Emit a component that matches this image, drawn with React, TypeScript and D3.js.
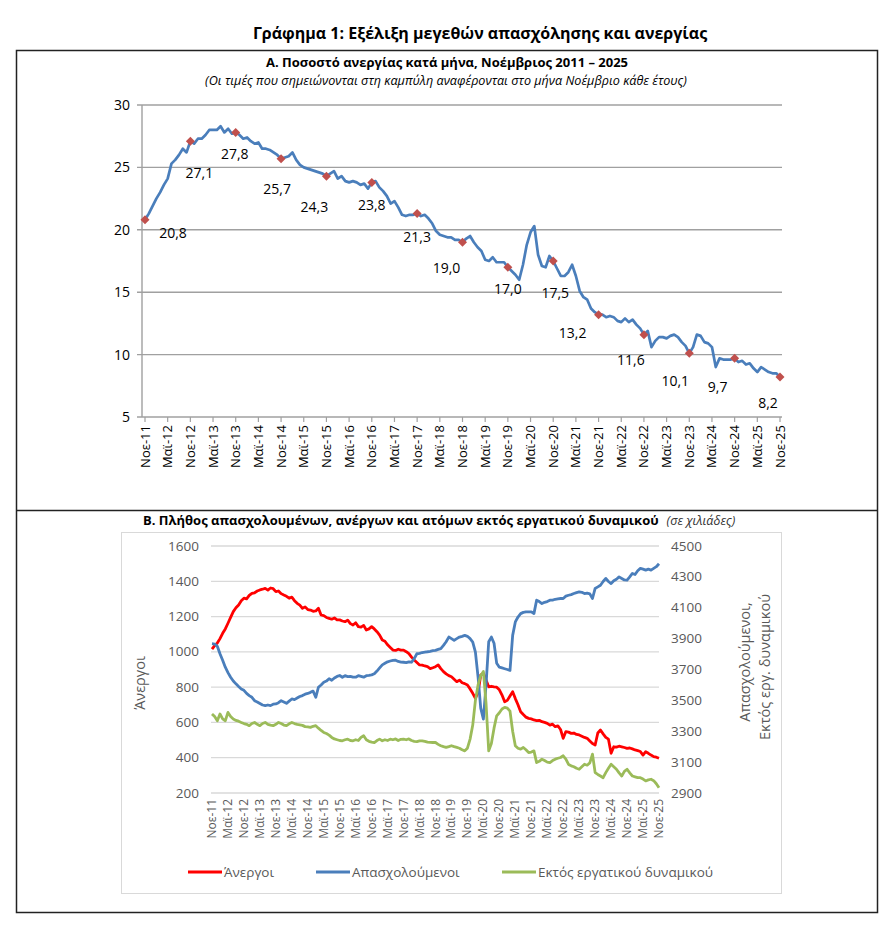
import React from "react";
import * as d3 from "d3";

// ---------- DATA ----------
// Month index 0 = Nov 2011 ... 168 = Nov 2025
const startYear = 2011;
const tickMonths = ["Νοε", "Μαϊ"];

// Panel A: unemployment rate (%) monthly
const unemploymentRate: number[] = [
  20.8, 21.3, 21.9, 22.5, 23.0, 23.6, 24.1, 25.3, 25.6, 26.0, 26.5, 26.2,
  27.1, 26.9, 27.3, 27.3, 27.6, 28.0, 28.0, 28.0, 28.3, 27.8, 28.1, 27.7,
  27.8, 27.6, 27.3, 27.4, 27.1, 26.9, 27.0, 26.5, 26.5, 26.4, 26.2, 26.0,
  25.7, 25.8, 25.9, 26.2, 25.6, 25.2, 25.0, 24.9, 24.8, 24.7, 24.6, 24.5,
  24.3, 24.5, 24.7, 24.1, 24.3, 23.9, 23.8, 23.9, 23.8, 23.6, 23.7, 23.3,
  23.8, 23.9, 23.4, 23.1, 22.7, 22.1, 22.3, 21.8, 21.2, 21.1, 21.2, 21.2,
  21.3, 21.1, 21.2, 20.9, 20.5, 19.9, 19.6, 19.5, 19.4, 19.4, 19.2, 19.2,
  19.0, 19.3, 19.5, 19.0, 18.6, 18.3, 17.6, 17.5, 17.8, 17.4, 17.4, 17.4,
  17.0, 16.7, 16.4, 16.0, 17.2, 18.8, 19.8, 20.3, 18.0, 17.1, 17.0, 17.9,
  17.5, 16.9, 16.3, 16.3, 16.6, 17.2, 16.3, 15.1, 14.6, 14.4, 13.7, 13.4,
  13.2, 13.2, 13.0, 13.1, 13.0, 12.7, 12.6, 12.9, 12.6, 12.8, 12.4, 12.1,
  11.6, 11.9, 10.6, 11.1, 11.4, 11.4, 11.3, 11.5, 11.6, 11.4, 11.0, 10.7,
  10.1, 10.6, 11.6, 11.5, 11.0, 10.9, 10.6, 9.0, 9.7, 9.6, 9.6, 9.6,
  9.7, 9.4, 9.5, 9.2, 9.3, 8.9, 8.6, 9.0, 8.8, 8.6, 8.5, 8.5,
  8.2,
];
const rateTicks = [5, 10, 15, 20, 25, 30];

// Panel B (thousands)
const unemployed: number[] = [
  1015, 1035, 1050, 1075, 1105, 1130, 1162, 1195, 1228, 1250, 1266, 1290,
  1304, 1300, 1320, 1332, 1335, 1345, 1351, 1355, 1360, 1350, 1362, 1358,
  1341, 1345, 1330, 1322, 1315, 1304, 1310, 1290, 1275, 1265, 1247, 1255,
  1240, 1237, 1230, 1232, 1247, 1209, 1205, 1195, 1190, 1185, 1192, 1181,
  1181, 1175, 1171, 1180, 1160, 1152, 1165, 1143, 1140, 1150, 1124, 1130,
  1143, 1130, 1114, 1095, 1067, 1060, 1040, 1025, 1010, 1008, 1015, 1010,
  1010, 1001, 990, 970, 954, 940, 926, 925, 920, 916, 905, 910,
  916, 926, 905, 888, 875, 865, 859, 845, 831, 840, 825, 820,
  812, 790, 765, 737, 770, 869, 878, 840, 802, 805, 802, 800,
  785, 755, 717, 725, 750, 774, 735, 700, 661, 645, 630, 623,
  620, 614, 610, 612, 604, 600, 595, 585, 590, 576, 580, 560,
  510, 548, 545, 538, 540, 532, 529, 522, 515, 510, 495, 480,
  472, 540, 557, 535, 515, 505, 425, 462, 460, 465, 462, 458,
  453, 455, 450, 444, 440, 435, 415, 434, 425, 415, 406, 403,
  397,
];
const employed: number[] = [
  3867, 3865, 3850, 3802, 3760, 3715, 3680, 3650, 3625, 3607, 3590, 3574,
  3565, 3545, 3531, 3520, 3498, 3490, 3480, 3470, 3466, 3470, 3466, 3475,
  3477, 3485, 3498, 3490, 3481, 3495, 3509, 3505, 3515, 3525, 3531, 3540,
  3545, 3552, 3560, 3520, 3585, 3600, 3617, 3625, 3640, 3630, 3645, 3655,
  3661, 3650, 3660, 3654, 3655, 3650, 3650, 3660, 3655, 3650, 3660, 3662,
  3665, 3672, 3690, 3710, 3730, 3740, 3750, 3755, 3759, 3760, 3752, 3748,
  3747, 3745, 3750, 3747, 3770, 3802, 3805, 3810, 3813, 3815, 3818, 3822,
  3824, 3830, 3835, 3856, 3880, 3910, 3900, 3889, 3900, 3910, 3915, 3921,
  3915, 3900, 3878, 3813, 3650, 3450, 3379, 3600, 3880, 3910, 3870, 3740,
  3715, 3710, 3705, 3700, 3694, 3921, 4008, 4040, 4062, 4070, 4073, 4073,
  4073, 4062, 4149, 4140, 4127, 4135, 4140, 4149, 4150, 4155, 4158, 4160,
  4160, 4175, 4181, 4185, 4192, 4198, 4203, 4200, 4192, 4195, 4190, 4160,
  4225, 4235, 4246, 4270, 4290, 4270, 4257, 4275, 4285, 4300, 4290, 4280,
  4279, 4300, 4322, 4315, 4340, 4355, 4350, 4344, 4350, 4344, 4355, 4366,
  4385,
];
const outsideLabourForce: number[] = [
  3412, 3395, 3368, 3412, 3380, 3368, 3422, 3395, 3379, 3370, 3365, 3357,
  3350, 3345, 3336, 3350, 3357, 3345, 3336, 3350, 3357, 3345, 3340, 3336,
  3345, 3357, 3350, 3340, 3336, 3348, 3357, 3350, 3345, 3342, 3338, 3330,
  3328, 3325, 3332, 3336, 3320, 3305, 3292, 3285, 3275, 3260, 3250, 3245,
  3240, 3238, 3245, 3249, 3240, 3238, 3245, 3240, 3260, 3271, 3245, 3235,
  3230, 3227, 3240, 3249, 3238, 3245, 3240, 3249, 3245, 3250, 3240, 3248,
  3249, 3245, 3250, 3240, 3235, 3233, 3238, 3238, 3235, 3230, 3228, 3227,
  3227, 3215, 3206, 3200, 3195, 3200, 3206, 3200, 3195, 3190, 3180, 3173,
  3190, 3249, 3340, 3500, 3600, 3660, 3687, 3480, 3173, 3220, 3320, 3400,
  3420, 3444, 3455, 3450, 3430, 3300, 3206, 3190, 3184, 3195, 3180, 3162,
  3165, 3173, 3097, 3105, 3119, 3110, 3100, 3097, 3110, 3119, 3125, 3130,
  3141, 3120, 3085, 3076, 3070, 3060, 3054, 3070, 3086, 3080, 3095, 3152,
  3032, 3020, 3010, 2999, 3032, 3060, 3086, 3070, 3054, 3030, 3010, 3040,
  3054, 3030, 3010, 3005, 3000, 2999, 2990, 2978, 2985, 2989, 2980, 2960,
  2934,
];
const leftTicks = [200, 400, 600, 800, 1000, 1200, 1400, 1600];
const rightTicks = [2900, 3100, 3300, 3500, 3700, 3900, 4100, 4300, 4500];

// ---------- LAYOUT ----------
const FONT = "'Open Sans', 'Noto Sans', sans-serif";
const tickIdx = d3.range(0, 169, 6);
const tickLabel = (m: number) => {
  const yr = startYear + Math.floor((m + 10) / 12);
  return `${tickMonths[(m / 6) % 2]}-${String(yr).slice(2)}`;
};
const novIdx = d3.range(0, 169, 12);
// label nudges (dx, dy) relative to marker, per November marker
const labelNudge: [number, number][] = [
  [28, 18], [9, 37], [-1, 27], [-4, 35], [-12, 36], [0, 28], [0, 28], [-16, 31],
  [0, 27], [2, 37], [-26, 23], [-13, 30], [-14, 33], [-17, 34], [-12, 31],
];

const COL_A = "#4a7ebb";
const COL_RED = "#ff0000";
const COL_BLUE = "#4a7ebb";
const COL_GREEN = "#9bbb59";
const GRAY_TXT = "#595959";

export default function App() {
  // Panel A scales
  const xA = d3.scaleLinear().domain([0, 168]).range([145, 780]);
  const yA = d3.scaleLinear().domain([5, 30]).range([417, 105]);
  const lineA = d3
    .line<number>()
    .x((_, i) => xA(i))
    .y((d) => yA(d));

  // Panel B scales
  const xB = d3.scaleLinear().domain([0, 168]).range([212, 659]);
  const yL = d3.scaleLinear().domain([200, 1600]).range([793, 546]);
  const yR = d3.scaleLinear().domain([2900, 4500]).range([793, 546]);
  const lineL = d3
    .line<number>()
    .x((_, i) => xB(i))
    .y((d) => yL(d));
  const lineR = d3
    .line<number>()
    .x((_, i) => xB(i))
    .y((d) => yR(d));

  const fmt = (v: number) => v.toFixed(1).replace(".", ",");

  return (
    <svg
      width={894}
      height={934}
      style={{ position: "absolute", left: 0, top: 0, background: "#fff" }}
      fontFamily={FONT}
    >
      <rect x={0} y={0} width={894} height={934} fill="#fff" />
      {/* Main title */}
      <text x={480} y={39} textAnchor="middle" fontSize={16} fontWeight="bold" fill="#000">
        Γράφημα 1: Εξέλιξη μεγεθών απασχόλησης και ανεργίας
      </text>
      {/* Frames */}
      <rect x={16.5} y={50.5} width={861} height={862} fill="none" stroke="#222" strokeWidth={1.5} />
      <line x1={16.5} x2={877.5} y1={510.5} y2={510.5} stroke="#222" strokeWidth={1.5} />

      {/* ---------- Panel A ---------- */}
      <text x={447} y={67} textAnchor="middle" fontSize={13} fontWeight="bold" fill="#000">
        Α. Ποσοστό ανεργίας κατά μήνα, Νοέμβριος 2011 – 2025
      </text>
      <text x={446} y={85} textAnchor="middle" fontSize={12.6} fontStyle="italic" fill="#000">
        (Οι τιμές που σημειώνονται στη καμπύλη αναφέρονται στο μήνα Νοέμβριο κάθε έτους)
      </text>
      {rateTicks.map((t) => (
        <g key={t}>
          <line x1={137} x2={782} y1={yA(t)} y2={yA(t)} stroke="#a0a0a0" strokeWidth={1.4} />
          <text x={130} y={yA(t) + 5} textAnchor="end" fontSize={14} fill="#000">
            {t}
          </text>
        </g>
      ))}
      <line x1={142} x2={142} y1={yA(30)} y2={yA(5)} stroke="#a0a0a0" strokeWidth={1.4} />
      {tickIdx.map((m) => (
        <g key={m}>
          <line x1={xA(m)} x2={xA(m)} y1={417} y2={422} stroke="#a0a0a0" strokeWidth={1.2} />
          <text
            transform={`translate(${xA(m) + 4.5},${425}) rotate(-90)`}
            textAnchor="end"
            fontSize={13}
            fill="#000"
          >
            {tickLabel(m)}
          </text>
        </g>
      ))}
      <path d={lineA(unemploymentRate) || ""} fill="none" stroke={COL_A} strokeWidth={2.7} strokeLinejoin="round" />
      {novIdx.map((m, k) => {
        const cx = xA(m);
        const cy = yA(unemploymentRate[m]);
        return (
          <g key={m}>
            <path d={`M${cx},${cy - 4.5}L${cx + 4.5},${cy}L${cx},${cy + 4.5}L${cx - 4.5},${cy}Z`} fill="#c0504d" />
            <text
              x={cx + labelNudge[k][0]}
              y={cy + labelNudge[k][1]}
              textAnchor="middle"
              fontSize={14}
              fill="#000"
            >
              {fmt(unemploymentRate[m])}
            </text>
          </g>
        );
      })}

      {/* ---------- Panel B ---------- */}
      <text x={143} y={525} fontSize={13} fontWeight="bold" fill="#000">
        Β. Πλήθος απασχολουμένων, ανέργων και ατόμων εκτός εργατικού δυναμικού
        <tspan dx={8} fontSize={12.5} fontWeight="normal" fontStyle="italic" fill="#333">
          (σε χιλιάδες)
        </tspan>
      </text>
      <rect x={121.5} y={532.5} width={660} height={361} fill="none" stroke="#d9d9d9" strokeWidth={1} />
      {leftTicks.map((t) => (
        <g key={t}>
          <line x1={211} x2={659} y1={yL(t)} y2={yL(t)} stroke="#d9d9d9" strokeWidth={1.3} />
          <text x={199} y={yL(t) + 4.5} textAnchor="end" fontSize={13.5} fill={GRAY_TXT}>
            {t}
          </text>
        </g>
      ))}
      {rightTicks.map((t) => (
        <text key={t} x={671} y={yR(t) + 4.5} fontSize={13.5} fill={GRAY_TXT}>
          {t}
        </text>
      ))}
      {tickIdx.map((m) => (
        <text
          key={m}
          transform={`translate(${xB(m) + 4},${799}) rotate(-90)`}
          textAnchor="end"
          fontSize={12}
          fill={GRAY_TXT}
        >
          {tickLabel(m)}
        </text>
      ))}
      <text transform="translate(145,683) rotate(-90)" textAnchor="middle" fontSize={14.5} fill={GRAY_TXT}>
        Άνεργοι
      </text>
      <text transform="translate(750,662) rotate(-90)" textAnchor="middle" fontSize={14.5} fill={GRAY_TXT}>
        Απασχολούμενοι,
      </text>
      <text transform="translate(770,667) rotate(-90)" textAnchor="middle" fontSize={14.5} fill={GRAY_TXT}>
        Εκτός εργ. δυναμικού
      </text>
      <path d={lineL(unemployed) || ""} fill="none" stroke={COL_RED} strokeWidth={2.8} strokeLinejoin="round" />
      <path d={lineR(employed) || ""} fill="none" stroke={COL_BLUE} strokeWidth={2.8} strokeLinejoin="round" />
      <path d={lineR(outsideLabourForce) || ""} fill="none" stroke={COL_GREEN} strokeWidth={2.8} strokeLinejoin="round" />

      {/* Legend */}
      {[
        { x: 188, label: "Άνεργοι", c: COL_RED },
        { x: 316, label: "Απασχολούμενοι", c: COL_BLUE },
        { x: 502, label: "Εκτός εργατικού δυναμικού", c: COL_GREEN },
      ].map((l) => (
        <g key={l.label}>
          <line x1={l.x} x2={l.x + 34} y1={872} y2={872} stroke={l.c} strokeWidth={3} />
          <text x={l.x + 36} y={877} fontSize={13.5} fill={GRAY_TXT}>
            {l.label}
          </text>
        </g>
      ))}
    </svg>
  );
}
